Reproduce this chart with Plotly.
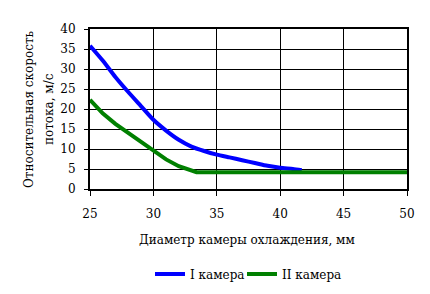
import plotly.graph_objects as go

# Data
d1 = [25, 26, 27, 28, 29, 30, 31, 32, 33, 34, 35, 36, 37, 38, 39, 40, 41, 41.7]
v1 = [35.8, 32.1, 28.0, 24.3, 20.8, 17.3, 14.6, 12.3, 10.6, 9.5, 8.6, 7.9, 7.2, 6.5, 5.8, 5.3, 5.0, 4.7]
d2 = [25, 26, 27, 28, 29, 30, 31, 32, 33, 33.4, 50]
v2 = [22.3, 18.9, 16.3, 14.0, 11.7, 9.5, 7.4, 5.7, 4.5, 4.2, 4.2]
name1 = "I камера"
name2 = "II камера"
x_ticks = [25, 30, 35, 40, 45, 50]
y_ticks = [0, 5, 10, 15, 20, 25, 30, 35, 40]
x_title = "Диаметр камеры охлаждения, мм"
y_title_1 = "Относительная скорость"
y_title_2 = "потока, м/с"

FONT = "DejaVu Serif, serif"
FS = 12

fig = go.Figure()
fig.add_trace(go.Scatter(x=d1, y=v1, mode="lines", name=name1, legend="legend",
                         line=dict(color="#0000FF", width=4, shape="spline", smoothing=0.6)))
fig.add_trace(go.Scatter(x=d2, y=v2, mode="lines", name=name2, legend="legend2",
                         line=dict(color="#008000", width=4)))

LEG_Y = -(274 - 189) / 160
leg_common = dict(orientation="h", yanchor="middle", y=LEG_Y, xanchor="left",
                  font=dict(family=FONT, size=FS), itemwidth=30,
                  bgcolor="rgba(0,0,0,0)", borderwidth=0)

fig.update_layout(
    width=430, height=294,
    margin=dict(l=90, r=23, t=29, b=105, autoexpand=False),
    paper_bgcolor="white", plot_bgcolor="white",
    font=dict(family=FONT, size=FS, color="black"),
    showlegend=True,
    legend=dict(x=(150 - 90) / 317, **leg_common),
    legend2=dict(x=(242 - 90) / 317, **leg_common),
    xaxis=dict(range=[25, 50], tickvals=x_ticks, showgrid=True, gridcolor="black", gridwidth=1,
               showline=True, linecolor="black", linewidth=2, mirror=True,
               ticks="outside", ticklen=5, tickcolor="black", tickwidth=1,
               zeroline=False, ticklabelstandoff=8),
    yaxis=dict(range=[0, 40], tickvals=y_ticks, showgrid=True, gridcolor="black", gridwidth=1,
               showline=True, linecolor="black", linewidth=2, mirror=True,
               ticks="outside", ticklen=4, tickcolor="black", tickwidth=1,
               zeroline=False, ticklabelstandoff=6),
    annotations=[
        dict(text=x_title, xref="paper", yref="paper", x=(247 - 90) / 317, y=-(240 - 189) / 160,
             xanchor="center", yanchor="middle", showarrow=False, font=dict(family=FONT, size=FS)),
        dict(text=y_title_1, xref="paper", yref="paper", x=(29 - 90) / 317, y=0.5,
             xanchor="center", yanchor="middle", showarrow=False, textangle=-90,
             font=dict(family=FONT, size=FS)),
        dict(text=y_title_2, xref="paper", yref="paper", x=(49 - 90) / 317, y=0.5,
             xanchor="center", yanchor="middle", showarrow=False, textangle=-90,
             font=dict(family=FONT, size=FS)),
    ],
)

fig.write_html("out.html")
